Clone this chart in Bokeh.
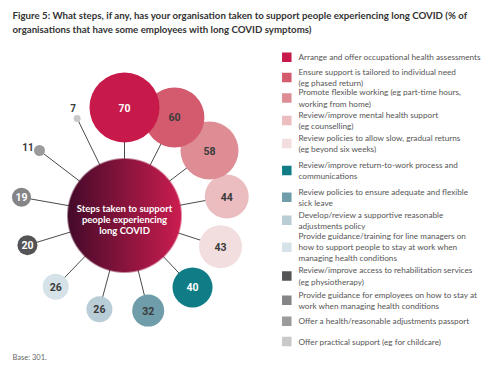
import numpy as np
from bokeh.plotting import figure
from bokeh.models import Range1d, ColumnDataSource
from bokeh.core.properties import value
from bokeh.embed import file_html
from bokeh.resources import INLINE

# ---------------- data ----------------
steps = [
    "Arrange and offer occupational health assessments",
    "Ensure support is tailored to individual need\n(eg phased return)",
    "Promote flexible working (eg part-time hours,\nworking from home)",
    "Review/improve mental health support\n(eg counselling)",
    "Review policies to allow slow, gradual returns\n(eg beyond six weeks)",
    "Review/improve return-to-work process and\ncommunications",
    "Review policies to ensure adequate and flexible\nsick leave",
    "Develop/review a supportive reasonable\nadjustments policy",
    "Provide guidance/training for line managers on\nhow to support people to stay at work when\nmanaging health conditions",
    "Review/improve access to rehabilitation services\n(eg physiotherapy)",
    "Provide guidance for employees on how to stay at\nwork when managing health conditions",
    "Offer a health/reasonable adjustments passport",
    "Offer practical support (eg for childcare)",
]
values = [70, 60, 58, 44, 43, 40, 32, 26, 26, 20, 19, 11, 7]
colors = ["#C8194B", "#D45A6E", "#DE8D94", "#EBBDC0", "#F3DEDF", "#0F7C86",
          "#6F9DAA", "#B9CDD6", "#D5E2E7", "#545456", "#858587", "#9B9B9B", "#C9C9C9"]
label_colors = ["white", "#3a3a3a", "#3a3a3a", "#3a3a3a", "#3a3a3a", "white",
                "#3a3a3a", "#3a3a3a", "#3a3a3a", "white", "white", "#3a3a3a", "#3a3a3a"]

title_text = ("Figure 5: What steps, if any, has your organisation taken to support people experiencing long COVID (% of\n"
              "organisations that have some employees with long COVID symptoms)")
center_text = "Steps taken to support\npeople experiencing\nlong COVID"
base_text = "Base: 301."

# ---------------- layout (picture pixel coordinates) ----------------
W, H = 483, 362
CX, CY, CR = 124, 215, 57
angles = [90, 63, 37.4, 10.5, -18, -46.6, -76, -105, -134, -163, 170, 142.6, 116]
dists = [108, 110, 107, 104, 101, 99, 98, 97, 99, 101.5, 104.6, 107, 108]
legend_y = [56.7, 77, 97.5, 120, 143, 170, 196.7, 219.7, 246.7, 275.5, 299.7, 320.8, 341]

rad = np.radians(angles)
bx = CX + np.array(dists) * np.cos(rad)
by = CY - np.array(dists) * np.sin(rad)
br = np.array(values) / 2.0

p = figure(width=W, height=H, output_backend="svg", toolbar_location=None,
           x_range=Range1d(0, W), y_range=Range1d(H, 0),
           min_border=0, outline_line_color=None)
p.axis.visible = False
p.grid.visible = False
p.background_fill_color = "white"
p.border_fill_color = "white"

# connector lines
p.segment(x0=[CX] * len(values), y0=[CY] * len(values), x1=bx, y1=by,
          line_color="#4a4a4a", line_width=1)

# bubbles
order = list(range(len(values)))[::-1]
bsrc = ColumnDataSource(dict(x=bx[order], y=by[order], r=br[order], c=[colors[i] for i in order]))
p.circle(x="x", y="y", radius="r", fill_color="c", line_color=None, source=bsrc)

# value labels: inside for big bubbles, outside for small ones
inside = [i for i, v in enumerate(values) if v >= 19]
outside = [i for i, v in enumerate(values) if v < 19]
p.text(x=bx[inside], y=by[inside], text=[str(values[i]) for i in inside],
       text_color=[label_colors[i] for i in inside], text_font=value("Roboto"),
       text_font_style="bold", text_font_size="10.5px",
       text_align="center", text_baseline="middle")
ox = [bx[i] - br[i] - 6 if values[i] > 8 else bx[i] - 4 for i in outside]
oy = [by[i] - 4 if values[i] > 8 else by[i] - br[i] - 7 for i in outside]
p.text(x=ox, y=oy, text=[str(values[i]) for i in outside],
       text_color="#3a3a3a", text_font=value("Roboto"), text_font_style="bold",
       text_font_size="10px", text_align="center", text_baseline="middle")

# central gradient circle as RGBA image
N = 2 * CR
yy, xx = np.mgrid[0:N, 0:N] + 0.5
d = np.sqrt((xx - CR) ** 2 + (yy - CR) ** 2)
alpha = np.clip(CR - d + 0.5, 0, 1)
t = xx / N
c0 = np.array([0x45, 0x0A, 0x2A])
c1 = np.array([0xCC, 0x1E, 0x50])
rgb = c0[None, None, :] * (1 - t[..., None]) + c1[None, None, :] * t[..., None]
img = np.zeros((N, N), dtype=np.uint32)
view = img.view(dtype=np.uint8).reshape((N, N, 4))
view[..., 0] = rgb[..., 0].astype(np.uint8)
view[..., 1] = rgb[..., 1].astype(np.uint8)
view[..., 2] = rgb[..., 2].astype(np.uint8)
view[..., 3] = (alpha * 255).astype(np.uint8)
p.image_rgba(image=[img], x=CX - CR, y=CY - CR, dw=N, dh=N)

p.text(x=[CX], y=[219], text=[center_text], text_color="white",
       text_font=value("Lato"), text_font_style="bold",
       text_font_size="9.5px", text_align="center", text_baseline="middle",
       text_line_height=1.0)

# legend
p.rect(x=[286.3] * len(steps), y=legend_y, width=9.5, height=9.5,
       fill_color=colors, line_color=None)
p.text(x=[298] * len(steps), y=legend_y, text=steps, text_color="#555555",
       text_font=value("Lato"), text_font_size="8.2px",
       text_align="left", text_baseline="middle", text_line_height=1.12)

# title and base
p.text(x=[12], y=[8.5], text=[title_text], text_color="#333333",
       text_font=value("Lato"), text_font_style="bold",
       text_font_size="9.7px", text_align="left", text_baseline="top",
       text_line_height=1.16)
p.text(x=[12], y=[357], text=[base_text], text_color="#666666",
       text_font=value("Lato"), text_font_size="7.5px",
       text_align="left", text_baseline="middle")

open("out.html", "w").write(file_html(p, INLINE))
